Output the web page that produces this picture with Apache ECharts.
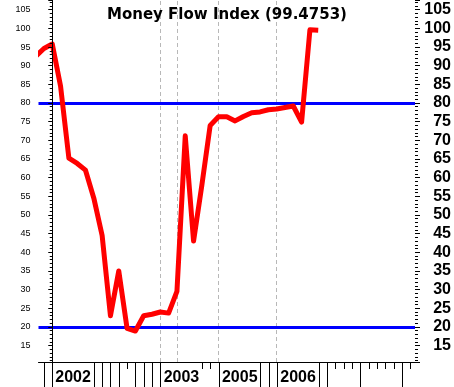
<!DOCTYPE html>
<html><head><meta charset="utf-8">
<script src="https://cdn.jsdelivr.net/npm/echarts@6/dist/echarts.min.js"></script>
<style>html,body{margin:0;padding:0;background:#fff}#c{width:454px;height:387px}</style>
</head><body><div id="c"></div>
<script>
// ---------- data ----------
const titleText = 'Money Flow Index (99.4753)';
const pointIndex = [-2,-1,0,1,2,3,4,5,6,7,8,9,10,11,12,13,14,15,16,17,18,19,20,21,22,23,24,25,26,27,28,29,30,31,32];
const mfiValues  = [92.5,94.6,95.8,84.5,65.2,63.8,62.0,54.5,44.5,23.0,35.0,19.6,18.9,23.0,23.4,24.0,23.7,29.5,71.2,43.0,58.0,74.0,76.3,76.3,75.2,76.4,77.4,77.6,78.2,78.4,78.8,79.2,74.9,99.6,99.4753];
const yearLabels = ['2002','2003','2005','2006'];
const yearLabelIndex = [0,13,20,27];
const yearGridIndex = [0,13,15,20,27];
const longTickIndex = [-1,0,5,6,7,8,10,11,12,13,20,25,26,27,32,33,37,42];
const shortTickIndex = [9,18,19,34,35,36,38,39,40,41,43];
const oversold = 20, overbought = 80;
const yMin = 10.6, yMax = 107.6;
const tickFirst = -2, tickLast = 44;

// ---------- layout ----------
const X0 = 52.3, DX = 25/3;          // pixel of index 0, spacing
const PL = 38.5, PR = 416, PT = 0, PH = 362;

const tickCats = [];
for (let k = tickFirst; k <= tickLast; k++) tickCats.push(String(k));

const chart = echarts.init(document.getElementById('c'), null, {renderer: 'canvas'});
const fmt5 = v => (Math.abs(v - Math.round(v / 5) * 5) < 1e-6 ? String(Math.round(v)) : '');

const option = {
  animation: false,
  backgroundColor: '#fff',
  title: {
    text: titleText, left: 'center', top: 3,
    textStyle: {fontFamily: 'DejaVu Sans', fontWeight: 'bold', fontSize: 15, color: '#000'}
  },
  graphic: [
    {type: 'rect', z: 5, silent: true, shape: {x: PL - 8.5, y: 0, width: 8, height: PH + 5},
     style: {fill: '#fff'}}
  ],
  grid: [
    {left: PL, top: PT, width: PR - PL, height: PH, containLabel: false},
    {left: X0 + tickFirst * DX, top: PT, width: (tickLast - tickFirst) * DX, height: PH, containLabel: false}
  ],
  xAxis: [
    {gridIndex: 0, type: 'value', min: (PL - X0) / DX, max: (PR - X0) / DX, z: 10,
     axisLine: {show: true, onZero: false, lineStyle: {color: '#000', width: 1}},
     axisTick: {show: false}, axisLabel: {show: false}, splitLine: {show: false}},
    {gridIndex: 1, type: 'category', position: 'bottom', data: tickCats, boundaryGap: false,
     axisLine: {show: false},
     axisTick: {show: true, length: 7, lineStyle: {color: '#000', width: 1},
       interval: (i) => shortTickIndex.includes(i + tickFirst)},
     axisLabel: {show: false}, splitLine: {show: false}},
    {gridIndex: 1, type: 'category', position: 'bottom', data: tickCats, boundaryGap: false,
     axisLine: {show: false},
     axisTick: {show: true, length: 25, lineStyle: {color: '#000', width: 1},
       interval: (i) => longTickIndex.includes(i + tickFirst)},
     axisLabel: {show: true, interval: (i) => yearLabelIndex.includes(i + tickFirst),
       formatter: (v) => { const j = yearLabelIndex.indexOf(Number(v)); return j >= 0 ? yearLabels[j] : ''; },
       align: 'left', padding: [0, 0, 0, 3], margin: 8,
       fontFamily: 'Liberation Sans', fontWeight: 'bold', fontSize: 16, color: '#000'},
     splitLine: {show: false}}
  ],
  yAxis: [
    {gridIndex: 0, type: 'value', position: 'left', min: yMin, max: yMax, z: 10,
     minInterval: 5, maxInterval: 5, splitNumber: 20,
     axisLine: {show: true, lineStyle: {color: '#000', width: 1}},
     axisTick: {show: true, length: 4, lineStyle: {color: '#000'}},
     minorTick: {show: true, splitNumber: 5, length: 2.5, lineStyle: {color: '#000'}},
     axisLabel: {show: true, formatter: fmt5, margin: 8, fontFamily: 'Liberation Sans', fontSize: 9, color: '#000',
       showMinLabel: false, showMaxLabel: false},
     splitLine: {show: false}},
    {gridIndex: 0, type: 'value', position: 'right', min: yMin, max: yMax,
     minInterval: 5, maxInterval: 5, splitNumber: 20,
     axisLine: {show: false},
     axisTick: {show: true, length: 5, lineStyle: {color: '#000'}},
     minorTick: {show: true, splitNumber: 5, length: 3, lineStyle: {color: '#000'}},
     axisLabel: {show: true, formatter: fmt5, margin: 36, align: 'right',
       fontFamily: 'Liberation Sans', fontWeight: 'bold', fontSize: 16, color: '#000',
       showMinLabel: false, showMaxLabel: false},
     splitLine: {show: false}},
    {gridIndex: 1, type: 'value', show: false, min: 0, max: 1}
  ],
  series: [
    {type: 'line', xAxisIndex: 0, yAxisIndex: 0, data: [], z: 1, silent: true,
     markLine: {silent: true, symbol: 'none', z: 1, animation: false, label: {show: false},
       lineStyle: {color: '#b8b8b8', width: 1, type: [4, 3]},
       data: yearGridIndex.map(k => ({xAxis: k}))}},
    {type: 'line', xAxisIndex: 0, yAxisIndex: 0, data: [], z: 1, silent: true,
     markLine: {silent: true, symbol: 'none', z: 2, animation: false, label: {show: false},
       lineStyle: {color: '#0000ff', width: 3, type: 'solid'},
       data: [{yAxis: overbought}, {yAxis: oversold}]}},
    {type: 'line', xAxisIndex: 0, yAxisIndex: 0, z: 3, silent: true,
     data: pointIndex.map((k, i) => [k, mfiValues[i]]),
     showSymbol: false, symbol: 'none', clip: true,
     lineStyle: {color: '#ff0000', width: 5, join: 'round', cap: 'butt'}}
  ]
};
chart.setOption(option);
</script>
</body></html>
